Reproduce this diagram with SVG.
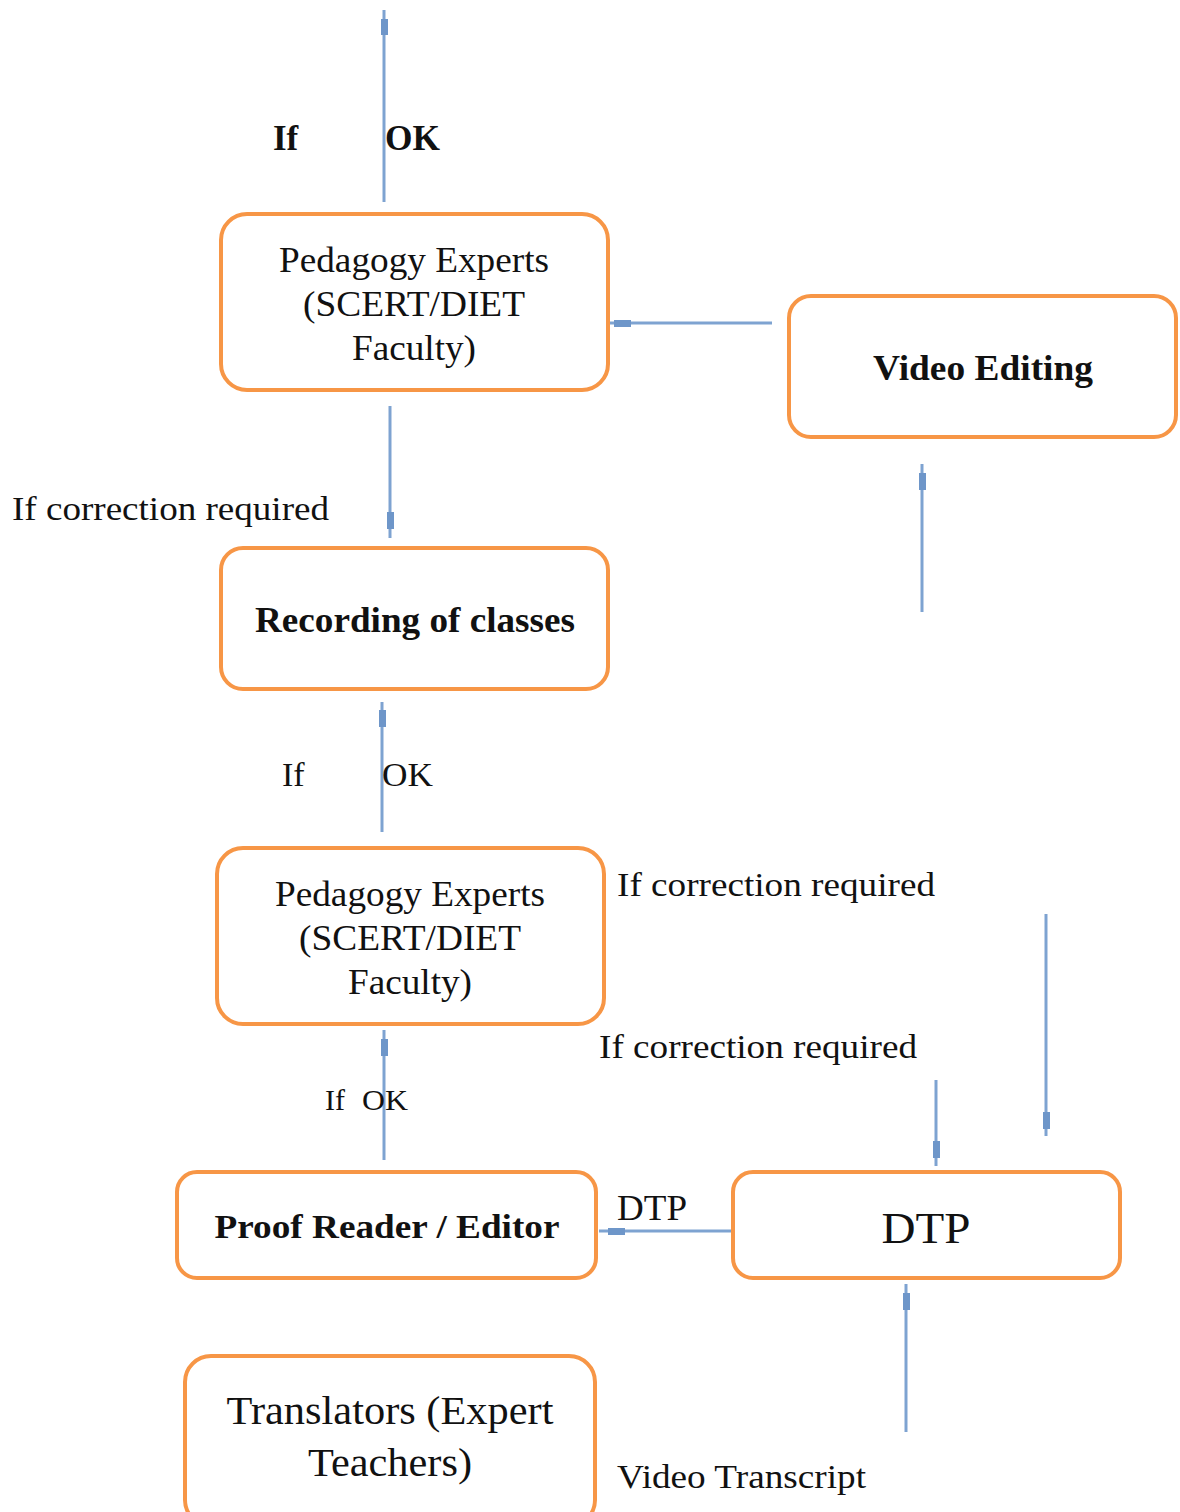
<svg xmlns="http://www.w3.org/2000/svg" width="1180" height="1512" viewBox="0 0 1180 1512">
  <style>
    .box { fill: #ffffff; stroke: #F79646; stroke-width: 4; }
    .t { font-family: "Liberation Serif", "Times New Roman", serif; fill: #111111; }
    .c { text-anchor: middle; }
    .b { font-weight: bold; }
    .ln { stroke: #7EA3D1; stroke-width: 3; fill: none; }
    .hd { fill: #6E96C9; }
  </style>

  <rect width="1180" height="1512" fill="#ffffff"/>

  <!-- connectors -->
  <g id="connectors">
    <!-- upward from upper review box -->
    <line class="ln" x1="384" y1="10" x2="384" y2="202"/>
    <rect class="hd" x="381" y="19" width="7" height="16"/>
    <!-- video editing back to upper review box -->
    <line class="ln" x1="605" y1="323" x2="772" y2="323"/>
    <rect class="hd" x="614" y="320" width="17" height="7"/>
    <!-- upper review down to recording -->
    <line class="ln" x1="390" y1="406" x2="390" y2="538"/>
    <rect class="hd" x="387" y="512" width="7" height="17"/>
    <!-- up into video editing -->
    <line class="ln" x1="922" y1="464" x2="922" y2="612"/>
    <rect class="hd" x="919" y="473" width="7" height="17"/>
    <!-- recording up from lower review -->
    <line class="ln" x1="382" y1="702" x2="382" y2="832"/>
    <rect class="hd" x="379" y="710" width="7" height="17"/>
    <!-- correction lines into DTP -->
    <line class="ln" x1="1046" y1="914" x2="1046" y2="1136"/>
    <rect class="hd" x="1043" y="1112" width="7" height="17"/>
    <line class="ln" x1="936" y1="1080" x2="936" y2="1166"/>
    <rect class="hd" x="933" y="1141" width="7" height="17"/>
    <!-- proof reader up to lower review -->
    <line class="ln" x1="384" y1="1030" x2="384" y2="1160"/>
    <rect class="hd" x="381" y="1039" width="7" height="17"/>
    <!-- DTP to proof reader -->
    <line class="ln" x1="599" y1="1231" x2="731" y2="1231"/>
    <rect class="hd" x="608" y="1228" width="17" height="7"/>
    <!-- transcript up to DTP -->
    <line class="ln" x1="906" y1="1284" x2="906" y2="1432"/>
    <rect class="hd" x="903" y="1293" width="7" height="17"/>
  </g>

  <!-- free labels -->
  <g id="labels">
    <text class="t b" x="273" y="150" font-size="35">If</text>
    <text class="t b" x="385" y="150" font-size="35" textLength="55" lengthAdjust="spacingAndGlyphs">OK</text>
    <text class="t" x="12" y="520" font-size="34" textLength="317" lengthAdjust="spacingAndGlyphs">If correction required</text>
    <text class="t" x="282" y="786" font-size="34">If</text>
    <text class="t" x="382" y="786" font-size="34" textLength="51" lengthAdjust="spacingAndGlyphs">OK</text>
    <text class="t" x="617" y="896" font-size="34" textLength="318" lengthAdjust="spacingAndGlyphs">If correction required</text>
    <text class="t" x="599" y="1058" font-size="34" textLength="318" lengthAdjust="spacingAndGlyphs">If correction required</text>
    <text class="t" x="325" y="1110" font-size="30">If</text>
    <text class="t" x="362" y="1110" font-size="30" textLength="46" lengthAdjust="spacingAndGlyphs">OK</text>
    <text class="t" x="617" y="1220" font-size="35" textLength="70" lengthAdjust="spacingAndGlyphs">DTP</text>
    <text class="t" x="617" y="1488" font-size="34" textLength="249" lengthAdjust="spacingAndGlyphs">Video Transcript</text>
  </g>

  <g id="review-top">
    <rect class="box" x="221" y="214" width="387" height="176" rx="26"/>
    <text class="t c" x="414" y="272" font-size="35" textLength="270" lengthAdjust="spacingAndGlyphs">Pedagogy Experts</text>
    <text class="t c" x="414" y="316" font-size="35" textLength="222" lengthAdjust="spacingAndGlyphs">(SCERT/DIET</text>
    <text class="t c" x="414" y="360" font-size="35" textLength="124" lengthAdjust="spacingAndGlyphs">Faculty)</text>
  </g>

  <g id="video-editing">
    <rect class="box" x="789" y="296" width="387" height="141" rx="22"/>
    <text class="t c b" x="983" y="380" font-size="35" textLength="220" lengthAdjust="spacingAndGlyphs">Video Editing</text>
  </g>

  <g id="recording">
    <rect class="box" x="221" y="548" width="387" height="141" rx="22"/>
    <text class="t c b" x="415" y="632" font-size="35" textLength="320" lengthAdjust="spacingAndGlyphs">Recording of classes</text>
  </g>

  <g id="review-bottom">
    <rect class="box" x="217" y="848" width="387" height="176" rx="26"/>
    <text class="t c" x="410" y="906" font-size="35" textLength="270" lengthAdjust="spacingAndGlyphs">Pedagogy Experts</text>
    <text class="t c" x="410" y="950" font-size="35" textLength="222" lengthAdjust="spacingAndGlyphs">(SCERT/DIET</text>
    <text class="t c" x="410" y="994" font-size="35" textLength="124" lengthAdjust="spacingAndGlyphs">Faculty)</text>
  </g>

  <g id="proof-reader">
    <rect class="box" x="177" y="1172" width="419" height="106" rx="20"/>
    <text class="t c b" x="387" y="1238" font-size="34" textLength="345" lengthAdjust="spacingAndGlyphs">Proof Reader / Editor</text>
  </g>

  <g id="dtp">
    <rect class="box" x="733" y="1172" width="387" height="106" rx="20"/>
    <text class="t c" x="926" y="1243" font-size="44" textLength="89" lengthAdjust="spacingAndGlyphs">DTP</text>
  </g>

  <g id="translators">
    <rect class="box" x="185" y="1356" width="410" height="170" rx="26"/>
    <text class="t c" x="390" y="1424" font-size="40" textLength="327" lengthAdjust="spacingAndGlyphs">Translators (Expert</text>
    <text class="t c" x="390" y="1476" font-size="40" textLength="164" lengthAdjust="spacingAndGlyphs">Teachers)</text>
  </g>
</svg>
